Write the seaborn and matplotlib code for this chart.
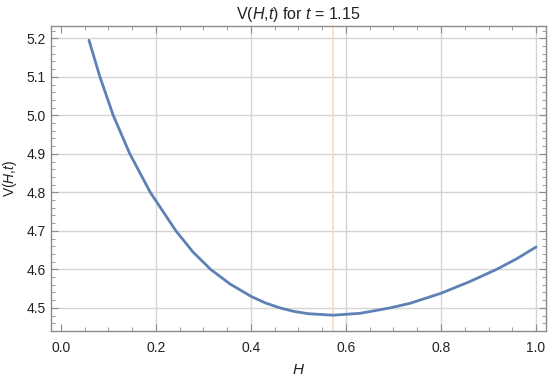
import matplotlib
matplotlib.use("Agg")
import matplotlib.pyplot as plt
import numpy as np
import pandas as pd
import seaborn as sns
from matplotlib.ticker import MultipleLocator, FormatStrFormatter

# values
h_vals = [0.059, 0.082, 0.110, 0.145, 0.188, 0.242, 0.278, 0.315, 0.356,
          0.400, 0.430, 0.461, 0.490, 0.520, 0.573, 0.630, 0.693, 0.735,
          0.800, 0.860, 0.917, 0.960, 1.000]
v_vals = [5.195, 5.100, 5.000, 4.900, 4.800, 4.700, 4.645, 4.600, 4.562,
          4.530, 4.513, 4.500, 4.491, 4.485, 4.481, 4.486, 4.500, 4.512,
          4.538, 4.568, 4.600, 4.628, 4.658]
h_min = 0.573
t_value = 1.15

df = pd.DataFrame({"H": h_vals, "V": v_vals})

sns.set_theme(style="white")
plt.rcParams["font.family"] = ["Liberation Sans", "DejaVu Sans"]
plt.rcParams["mathtext.fontset"] = "custom"
plt.rcParams["mathtext.rm"] = "Liberation Sans"
plt.rcParams["mathtext.it"] = "Liberation Sans:italic"

fig = plt.figure(figsize=(5.5, 3.82), dpi=100)
ax = fig.add_axes([0.0927, 0.1335, 0.9, 0.7985])

grid_c = "#d4d4d4"
for x in [0.2, 0.4, 0.6, 0.8, 1.0]:
    ax.axvline(x, color=grid_c, lw=1, zorder=0)
for y in np.arange(4.5, 5.21, 0.1):
    ax.axhline(y, color=grid_c, lw=1, zorder=0)
ax.axvline(h_min, color="#fbdcbd", lw=1.2, zorder=1)

sns.lineplot(data=df, x="H", y="V", sort=False, ax=ax,
             color="#5e81b5", linewidth=2, zorder=3,
             solid_joinstyle="round")

ax.set_xlim(-0.021, 1.021)
ax.set_ylim(4.44, 5.232)
ax.xaxis.set_major_locator(MultipleLocator(0.2))
ax.xaxis.set_minor_locator(MultipleLocator(0.05))
ax.yaxis.set_major_locator(MultipleLocator(0.1))
ax.yaxis.set_minor_locator(MultipleLocator(0.02))
ax.xaxis.set_major_formatter(FormatStrFormatter("%.1f"))
ax.yaxis.set_major_formatter(FormatStrFormatter("%.1f"))

frame_c = "#8c8c8c"
for s in ax.spines.values():
    s.set_color(frame_c)
    s.set_linewidth(1)
ax.tick_params(which="both", direction="in", top=True, right=True,
               bottom=True, left=True, color=frame_c, labelsize=10,
               labelcolor="#222222")
ax.tick_params(which="major", length=5, width=0.8)
ax.tick_params(which="minor", length=3, width=0.6)
ax.tick_params(axis="x", which="major", pad=7)
ax.tick_params(axis="y", which="major", pad=4)

ax.set_xlabel(r"$\it{H}$", fontsize=11, labelpad=6, color="#222222")
ax.set_ylabel(r"V($\it{H}$,$\it{t}$)", fontsize=10, labelpad=5,
              color="#222222")
ax.set_title(r"V($\it{H}$,$\it{t}$) for $\it{t}$ = " + f"{t_value}",
             fontsize=11.5, pad=5, color="#222222")

fig.savefig("out.png", dpi=100)
